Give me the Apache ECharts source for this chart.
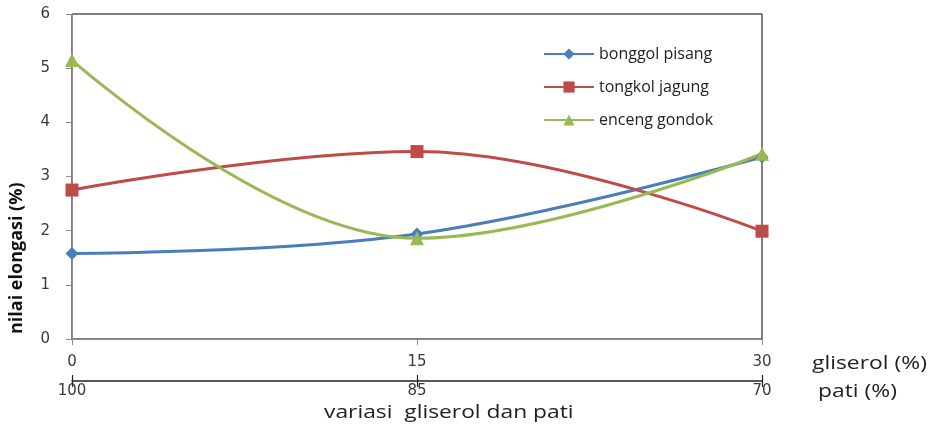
<!DOCTYPE html>
<html>
<head>
<meta charset="utf-8">
<script src="https://cdn.jsdelivr.net/npm/echarts@6/dist/echarts.min.js"></script>
<style>
  html, body { margin: 0; padding: 0; background: #fff; }
  #chart { width: 933px; height: 431px; }
</style>
</head>
<body>
<div id="chart"></div>
<script>
// glycerol levels (%) on the main x axis, matching starch levels (%) below
const gliserol = [0, 15, 30];
const patiLabels = ['100', '85', '70'];

// elongation values (%)
const bonggolPisang = [1.58, 1.94, 3.36];
const tongkolJagung = [2.75, 3.46, 1.99];
const encengGondok = [5.15, 1.86, 3.42];

const yTicks = [0, 1, 2, 3, 4, 5, 6];

const pairs = vals => gliserol.map((g, i) => [g, vals[i]]);

const chart = echarts.init(document.getElementById('chart'));
const tickFont = { fontFamily: 'DejaVu Sans', fontSize: 15, color: '#3a3a3a' };

chart.setOption({
  animation: false,
  grid: { left: 72, right: 171, top: 14, bottom: 92, show: true, borderColor: '#000', borderWidth: 1, backgroundColor: 'transparent' },
  legend: {
    orient: 'vertical', left: 538, top: 41, itemGap: 17, itemWidth: 50, itemHeight: 14,
    textStyle: { fontFamily: 'Open Sans', fontSize: 16, color: '#222' },
    data: ['bonggol pisang', 'tongkol jagung', 'enceng gondok']
  },
  xAxis: [
    {
      type: 'value', min: 0, max: 30, interval: 15, position: 'bottom',
      axisLine: { lineStyle: { color: '#8c8c8c', width: 1 } },
      axisTick: { show: true, length: 6, lineStyle: { color: '#8c8c8c' } },
      axisLabel: Object.assign({ margin: 16 }, tickFont),
      splitLine: { show: false }
    },
    {
      type: 'category', data: patiLabels, boundaryGap: false, position: 'bottom', offset: 42,
      axisLine: { lineStyle: { color: '#222', width: 1.5 } },
      axisTick: { show: true, length: 6, alignWithLabel: true, lineStyle: { color: '#222', width: 1.2 } },
      axisLabel: Object.assign({ margin: 3 }, tickFont),
      splitLine: { show: false }
    },
    {
      type: 'category', data: patiLabels, boundaryGap: false, position: 'bottom', offset: 42,
      axisLine: { show: false },
      axisTick: { show: true, inside: true, length: 6, lineStyle: { color: '#222', width: 1.2 } },
      axisLabel: { show: false },
      splitLine: { show: false }
    }
  ],
  yAxis: {
    type: 'value', min: yTicks[0], max: yTicks[yTicks.length - 1], interval: 1,
    axisLine: { show: true, lineStyle: { color: '#8c8c8c', width: 1 } },
    axisTick: { show: true, length: 6, lineStyle: { color: '#8c8c8c' } },
    axisLabel: Object.assign({ margin: 22 }, tickFont),
    splitLine: { show: false }
  },
  graphic: [
    { type: 'text', x: 812, y: 355, scaleX: 1.27, style: { text: 'gliserol (%)', font: '18px "Open Sans"', fill: '#222' } },
    { type: 'text', x: 818, y: 383, scaleX: 1.27, style: { text: 'pati (%)', font: '18px "Open Sans"', fill: '#222' } },
    { type: 'text', x: 324, y: 403, scaleX: 1.2, style: { text: 'variasi  gliserol dan pati', font: '19px "Open Sans"', fill: '#222' } },
    { type: 'text', x: 8, y: 334, rotation: Math.PI / 2, style: { text: 'nilai elongasi (%)', font: 'bold 18px "Open Sans"', fill: '#111' } }
  ],
  series: [
    {
      name: 'bonggol pisang', type: 'line', smooth: 0.4, data: pairs(bonggolPisang),
      symbol: 'diamond', symbolSize: 13,
      lineStyle: { color: '#4a7ebb', width: 3 }, itemStyle: { color: '#4a7ebb' }
    },
    {
      name: 'tongkol jagung', type: 'line', smooth: 0.4, data: pairs(tongkolJagung),
      symbol: 'rect', symbolSize: 13,
      lineStyle: { color: '#be4b48', width: 3 }, itemStyle: { color: '#be4b48' }
    },
    {
      name: 'enceng gondok', type: 'line', smooth: 0.4, data: pairs(encengGondok),
      symbol: 'triangle', symbolSize: 14,
      lineStyle: { color: '#98b954', width: 3 }, itemStyle: { color: '#98b954' }
    }
  ]
});
</script>
</body>
</html>
